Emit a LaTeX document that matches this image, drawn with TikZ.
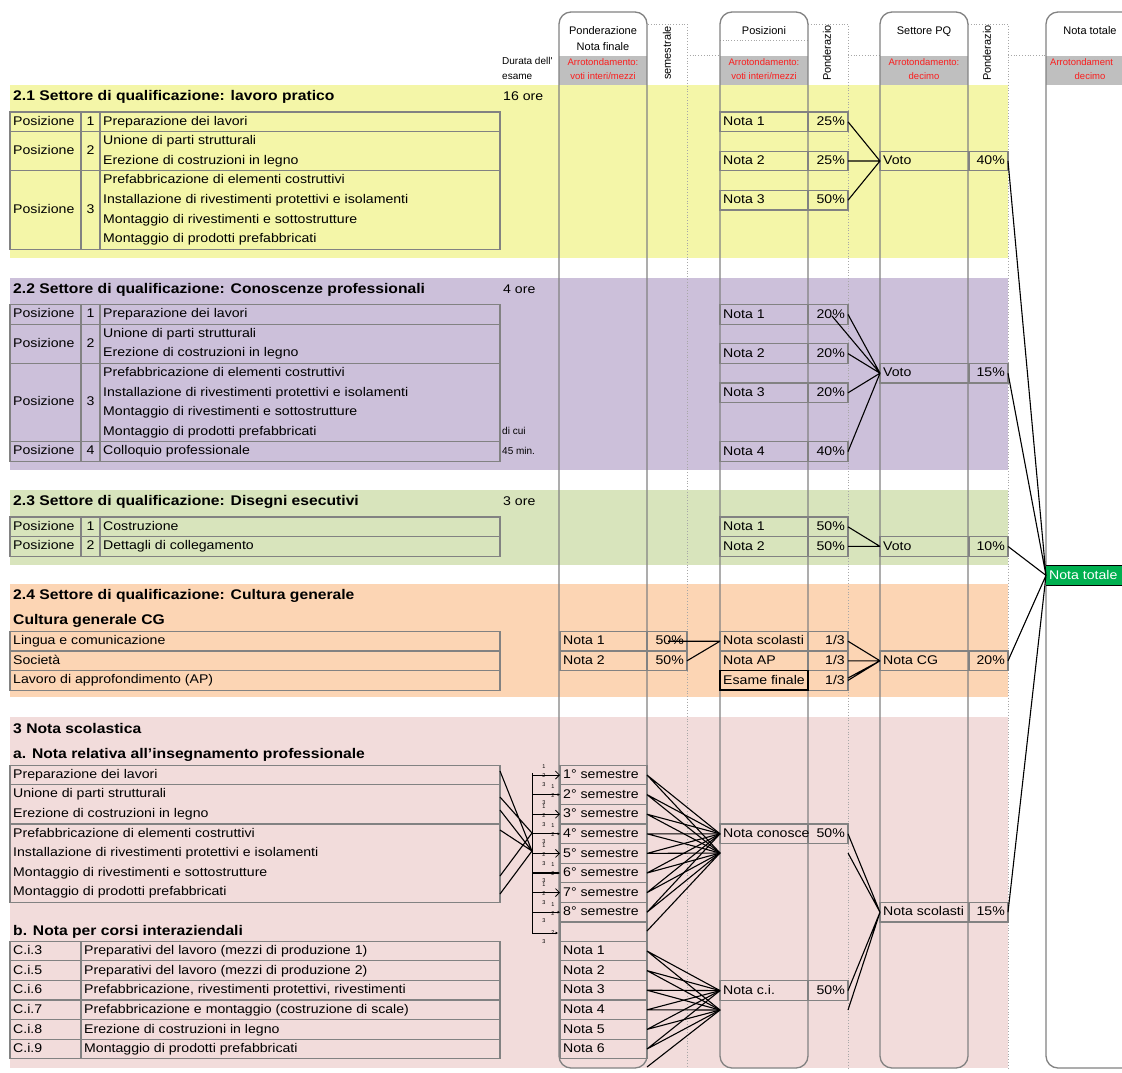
\documentclass[tikz,border=0pt]{standalone}
\usepackage{fontspec}
\setmainfont{Liberation Sans}[FakeStretch=1.12]
\newfontfamily\hdrfont{Liberation Sans}
\usetikzlibrary{arrows.meta}
\definecolor{cYel}{RGB}{244,246,168}
\definecolor{cPur}{RGB}{204,192,218}
\definecolor{cGrn}{RGB}{216,228,188}
\definecolor{cOra}{RGB}{252,213,180}
\definecolor{cPnk}{RGB}{242,220,219}
\definecolor{cHdr}{RGB}{191,191,191}
\definecolor{cRed}{RGB}{250,30,30}
\definecolor{cTot}{RGB}{0,176,80}
\definecolor{cLine}{RGB}{130,130,130}
\newcommand\pcell[7]{%
  \draw[cellb] (#2,#5) rectangle (#4,#5+19.6);
  \draw[cellb] (#3,#5) -- (#3,#5+19.6);
  \node[t] (#1l) at (#2+3,#5+10.2) {#6};
  \node[te] (#1p) at (#4-3,#5+10.2) {#7};
  \coordinate (#1W) at (#2,#5+9.8);
  \coordinate (#1E) at (#4,#5+9.8);
}
\begin{document}
\begin{tikzpicture}[x=1pt,y=-1pt,
  t/.style={anchor=west,inner sep=0pt,font=\fontsize{12.6}{14}\selectfont,text height=9pt,text depth=2.5pt},
  tc/.style={t,anchor=center},
  te/.style={t,anchor=east},
  hd/.style={t,font=\fontsize{14}{16}\selectfont\bfseries},
  sm/.style={anchor=center,inner sep=0pt,font=\hdrfont\fontsize{11}{12}\selectfont,text height=7.5pt,text depth=2pt},
  sml/.style={sm,anchor=west,font=\hdrfont\fontsize{10}{12}\selectfont},
  rd/.style={sm,text=cRed,font=\hdrfont\fontsize{9.5}{11}\selectfont},
  tiny/.style={anchor=center,inner sep=0pt,font=\hdrfont\fontsize{5.5}{6}\selectfont},
  cellb/.style={draw=cLine,line width=1.3pt},
  colbox/.style={draw=cLine,line width=1.3pt,rounded corners=12pt},
  dotl/.style={draw=cLine!70,line width=0.8pt,dotted},
  con/.style={draw=black,line width=1.1pt},
]
\useasboundingbox (0,0) rectangle (1122,1072);
\clip (0,0) rectangle (1122,1072);
\fill[white] (0,0) rectangle (1122,1072);
% bands
\fill[cYel] (10,85) rectangle (1008,258);
\fill[cPur] (10,278) rectangle (1008,470);
\fill[cGrn] (10,490) rectangle (1008,565);
\fill[cOra] (10,584) rectangle (1008,697);
\fill[cPnk] (10,717) rectangle (1008,1068);
% header grey
\fill[cHdr] (559,56) rectangle (647,85);
\fill[cHdr] (720,56) rectangle (808,85);
\fill[cHdr] (880,56) rectangle (968,85);
\fill[cHdr] (1046,56) rectangle (1140,85);
% dotted columns
\draw[dotl] (648,24) -- (687,24) -- (687,1068);
\draw[dotl] (808,24) -- (848,24) -- (848,1068);
\draw[dotl] (968,24) -- (1008,24) -- (1008,1068);
\draw[dotl] (687,55) -- (720,55);
\draw[dotl] (848,55) -- (880,55);
\draw[dotl] (1008,55) -- (1046,55);
\draw[dotl] (720,40) -- (808,40);
% column boxes
\draw[colbox] (559,12) rectangle (647,1068);
\draw[colbox] (720,12) rectangle (808,1068);
\draw[colbox] (880,12) rectangle (968,1068);
\draw[colbox] (1046,12) rectangle (1160,1068);
% header texts
\node[sm] (hPon1) at (603,32) {Ponderazione};
\node[sm] (hPon2) at (603,48) {Nota finale};
\node[rd] (hPonA) at (603,63) {Arrotondamento:};
\node[rd] (hPonB) at (603,77) {voti interi/mezzi};
\node[sm,rotate=90] (hSem) at (668,53) {semestrale};
\node[sm] (hPos) at (764,32) {Posizioni};
\node[rd] (hPosA) at (764,63) {Arrotondamento:};
\node[rd] (hPosB) at (764,77) {voti interi/mezzi};
\node[sm,rotate=90] (hPw1) at (828,53) {Ponderazio};
\node[sm] (hSet) at (924,32) {Settore PQ};
\node[rd] (hSetA) at (924,63) {Arrotondamento:};
\node[rd] (hSetB) at (924,77) {decimo};
\node[sm,rotate=90] (hPw2) at (988,53) {Ponderazio};
\node[sm] (hTot) at (1090,32) {Nota totale};
\node[rd,anchor=west] (hTotA) at (1050,63) {Arrotondament};
\node[rd] (hTotB) at (1090,77) {decimo};
\node[sml] (hDur1) at (502,62) {Durata dell'};
\node[sml] (hDur2) at (502,77) {esame};

% ===== 2.1 =====
\node[hd] (h21) at (13,97) {2.1 Settore di qualificazione: lavoro pratico};
\node[t] (d21) at (503,97) {16 ore};
\draw[cellb] (10,112) rectangle (500,249.2);
\draw[cellb] (10,131.6) -- (500,131.6) (10,170.8) -- (500,170.8) (81,112) -- (81,249.2) (100,112) -- (100,249.2);
\node[t] (a21p1) at (13,122) {Posizione};
\node[tc] (a21n1) at (90.5,122) {1};
\node[t] (a21d1) at (103,122) {Preparazione dei lavori};
\node[t] (a21p2) at (13,151.2) {Posizione};
\node[tc] (a21n2) at (90.5,151.2) {2};
\node[t] (a21d2) at (103,141.4) {Unione di parti strutturali};
\node[t] (a21d3) at (103,161) {Erezione di costruzioni in legno};
\node[t] (a21p3) at (13,210) {Posizione};
\node[tc] (a21n3) at (90.5,210) {3};
\node[t] (a21d4) at (103,180.6) {Prefabbricazione di elementi costruttivi};
\node[t] (a21d5) at (103,200.2) {Installazione di rivestimenti protettivi e isolamenti};
\node[t] (a21d6) at (103,219.8) {Montaggio di rivestimenti e sottostrutture};
\node[t] (a21d7) at (103,239.4) {Montaggio di prodotti prefabbricati};
\pcell{a1}{720}{808}{848}{112}{Nota 1}{25\%}
\pcell{a2}{720}{808}{848}{151.2}{Nota 2}{25\%}
\pcell{a3}{720}{808}{848}{190.4}{Nota 3}{50\%}
\pcell{av}{880}{969}{1008}{151.2}{Voto}{40\%}

% ===== 2.2 =====
\node[hd] (h22) at (13,290) {2.2 Settore di qualificazione: Conoscenze professionali};
\node[t] (d22) at (503,290) {4 ore};
\draw[cellb] (10,304.6) rectangle (500,461.4);
\draw[cellb] (10,324.2) -- (500,324.2) (10,363.4) -- (500,363.4) (10,441.8) -- (500,441.8) (81,304.6) -- (81,461.4) (100,304.6) -- (100,461.4);
\node[t] (b22p1) at (13,314.4) {Posizione};
\node[tc] (b22n1) at (90.5,314.4) {1};
\node[t] (b22d1) at (103,314.4) {Preparazione dei lavori};
\node[t] (b22p2) at (13,343.8) {Posizione};
\node[tc] (b22n2) at (90.5,343.8) {2};
\node[t] (b22d2) at (103,334) {Unione di parti strutturali};
\node[t] (b22d3) at (103,353.6) {Erezione di costruzioni in legno};
\node[t] (b22p3) at (13,402.6) {Posizione};
\node[tc] (b22n3) at (90.5,402.6) {3};
\node[t] (b22d4) at (103,373.2) {Prefabbricazione di elementi costruttivi};
\node[t] (b22d5) at (103,392.8) {Installazione di rivestimenti protettivi e isolamenti};
\node[t] (b22d6) at (103,412.4) {Montaggio di rivestimenti e sottostrutture};
\node[t] (b22d7) at (103,432) {Montaggio di prodotti prefabbricati};
\node[t] (b22p4) at (13,451.6) {Posizione};
\node[tc] (b22n4) at (90.5,451.6) {4};
\node[t] (b22d8) at (103,451.6) {Colloquio professionale};
\node[sml] (dicui) at (502,432) {di cui};
\node[sml] (min45) at (502,452) {45 min.};
\pcell{b1}{720}{808}{848}{304.6}{Nota 1}{20\%}
\pcell{b2}{720}{808}{848}{343.8}{Nota 2}{20\%}
\pcell{b3}{720}{808}{848}{383}{Nota 3}{20\%}
\pcell{b4}{720}{808}{848}{441.8}{Nota 4}{40\%}
\pcell{bv}{880}{969}{1008}{363.4}{Voto}{15\%}
\coordinate (b1m) at (832,316);

% ===== 2.3 =====
\node[hd] (h23) at (13,502) {2.3 Settore di qualificazione: Disegni esecutivi};
\node[t] (d23) at (503,502) {3 ore};
\draw[cellb] (10,517) rectangle (500,556.2);
\draw[cellb] (10,536.6) -- (500,536.6) (81,517) -- (81,556.2) (100,517) -- (100,556.2);
\node[t] (c23p1) at (13,526.8) {Posizione};
\node[tc] (c23n1) at (90.5,526.8) {1};
\node[t] (c23d1) at (103,526.8) {Costruzione};
\node[t] (c23p2) at (13,546.4) {Posizione};
\node[tc] (c23n2) at (90.5,546.4) {2};
\node[t] (c23d2) at (103,546.4) {Dettagli di collegamento};
\pcell{c1}{720}{808}{848}{517}{Nota 1}{50\%}
\pcell{c2}{720}{808}{848}{536.6}{Nota 2}{50\%}
\pcell{cv}{880}{969}{1008}{536.6}{Voto}{10\%}

% ===== 2.4 =====
\node[hd] (h24) at (13,596) {2.4 Settore di qualificazione: Cultura generale};
\node[hd] (h24b) at (13,621) {Cultura generale CG};
\draw[cellb] (10,631.4) rectangle (500,690.2);
\draw[cellb] (10,651) -- (500,651) (10,670.6) -- (500,670.6);
\node[t] (g24a) at (13,641.2) {Lingua e comunicazione};
\node[t] (g24b) at (13,660.8) {Società};
\node[t] (g24c) at (13,680.4) {Lavoro di approfondimento (AP)};
\pcell{g1}{560}{647}{687}{631.4}{Nota 1}{50\%}
\pcell{g2}{560}{647}{687}{651}{Nota 2}{50\%}
\coordinate (g1m) at (668,641.2);
\pcell{gs}{720}{808}{848}{631.4}{Nota scolasti}{1/3}
\pcell{ga}{720}{808}{848}{651}{Nota AP}{1/3}
\pcell{ge}{720}{808}{848}{670.6}{Esame finale}{1/3}
\draw[black,line width=1.1pt] (720,670.6) rectangle (808,690.2);
\draw[black,line width=2pt] (720,690.2) -- (808,690.2);
\coordinate (geE2) at (848,678);
\pcell{gc}{880}{969}{1008}{651}{Nota CG}{20\%}

% ===== Nota totale =====
\fill[cTot] (1046,565.6) rectangle (1140,585.2);
\draw[black,line width=1.3pt] (1046,565.6) -- (1140,565.6) (1046,585.2) -- (1140,585.2);
\node[t,text=white] (tot) at (1049,575.8) {Nota totale};
\coordinate (totW) at (1046,575.4);

% ===== 3 =====
\node[hd] (h3) at (13,730) {3 Nota scolastica};
\node[hd] (h3a) at (13,755) {a. Nota relativa all’insegnamento professionale};
\draw[cellb] (10,765.2) rectangle (500,784.8);
\draw[cellb] (10,784.8) rectangle (500,824);
\draw[cellb] (10,824) rectangle (500,902.4);
\node[t] (e1) at (13,775) {Preparazione dei lavori};
\node[t] (e2) at (13,794.6) {Unione di parti strutturali};
\node[t] (e3) at (13,814.2) {Erezione di costruzioni in legno};
\node[t] (e4) at (13,833.8) {Prefabbricazione di elementi costruttivi};
\node[t] (e5) at (13,853.4) {Installazione di rivestimenti protettivi e isolamenti};
\node[t] (e6) at (13,873) {Montaggio di rivestimenti e sottostrutture};
\node[t] (e7) at (13,892.6) {Montaggio di prodotti prefabbricati};
\foreach \k [evaluate=\k as \n using int(\k+1)] in {0,...,7}{
  \draw[cellb] (560,765.2+19.6*\k) rectangle (647,784.8+19.6*\k);
  \node[t] (sem\k) at (563,775.4+19.6*\k) {\n° semestre};
  \coordinate (semE\k) at (647,775+19.6*\k);
  \coordinate (semW\k) at (560,775+19.6*\k);
  \coordinate (brk\k) at (532,775+19.6*\k);
}
\draw[cellb] (560,921.6) rectangle (647,941.2);
\coordinate (semE8) at (647,931);
\coordinate (semW8) at (558,933);
\coordinate (brk8) at (532,933);
\coordinate (brkT) at (532,773);
\draw[line width=1pt] (brkT) -- (brk8);
\foreach \k in {0,2,4,6}{
  \draw[line width=0.8pt,-{Straight Barb[length=4pt,width=8pt]}] (brk\k) -- (semW\k);
  \node[tiny] (ta\k) at (544,767+19.6*\k) {1};
  \node[tiny] (tb\k) at (544,776+19.6*\k) {2};
  \node[tiny] (tc\k) at (544,785+19.6*\k) {3};
}
\foreach \k in {1,3,5,7}{
  \draw[line width=1.3pt,-{Latex[length=2.5pt,width=3pt]}] (brk\k) -- (semW\k);
  \node[tiny] (ta\k) at (553,767+19.6*\k) {1};
  \node[tiny] (tb\k) at (553,776+19.6*\k) {2};
  \node[tiny] (tc\k) at (544,783+19.6*\k) {3};
}
\draw[line width=0.8pt,-{Latex[length=2.5pt,width=3pt]}] (brk8) -- (semW8);
\node[tiny] (tb8) at (553,933) {2};
\node[tiny] (tc8) at (544,942) {3};
\coordinate (eL1) at (500,771);
\coordinate (eL2) at (500,797);
\coordinate (eL3) at (500,810);
\coordinate (eL4) at (500,830);
\coordinate (eL5) at (500,876);
\coordinate (eL6) at (500,894);
\coordinate (bc1) at (532,833);
\coordinate (bc2) at (532,851);
\draw[con] (eL1) -- (bc2) (eL2) -- (bc1) (eL3) -- (bc2) (eL4) -- (bc2) (eL5) -- (bc1) (eL6) -- (bc2);

\pcell{nk}{720}{808}{848}{824}{Nota conosce}{50\%}
\coordinate (nkW2) at (720,853);
\coordinate (nkE2) at (848,853);
\pcell{ns}{880}{969}{1008}{902.4}{Nota scolasti}{15\%}

\node[hd] (h3b) at (13,932) {b. Nota per corsi interaziendali};
\draw[cellb] (10,941.2) rectangle (500,1058.8);
\draw[cellb] (81,941.2) -- (81,1058.8);
\foreach \k/\c/\d in {0/3/Preparativi del lavoro (mezzi di produzione 1),
                      1/5/Preparativi del lavoro (mezzi di produzione 2),
                      2/6/{Prefabbricazione, rivestimenti protettivi, rivestimenti},
                      3/7/Prefabbricazione e montaggio (costruzione di scale),
                      4/8/Erezione di costruzioni in legno,
                      5/9/Montaggio di prodotti prefabbricati}{
  \draw[cellb] (10,941.2+19.6*\k) -- (500,941.2+19.6*\k);
  \node[t] (ci\k) at (13,951.4+19.6*\k) {C.i.\c};
  \node[t] (cd\k) at (84,951.4+19.6*\k) {\d};
}
\foreach \k [evaluate=\k as \n using int(\k+1)] in {0,...,5}{
  \draw[cellb] (560,941.2+19.6*\k) rectangle (647,960.8+19.6*\k);
  \node[t] (cn\k) at (563,951.4+19.6*\k) {Nota \n};
  \coordinate (cnE\k) at (647,951+19.6*\k);
}
\coordinate (cnE6) at (647,1067);
\pcell{nc}{720}{808}{848}{980.8}{Nota c.i.}{50\%}
\coordinate (ncW2) at (720,1010);
\coordinate (ncE2) at (848,1010);

% ===== connectors =====
\draw[con] (a1E) -- (avW) (a2E) -- (avW) (a3E) -- (avW);
\draw[con] (b1E) -- (bvW) (b1m) -- (bvW) (b2E) -- (bvW) (b3E) -- (bvW) (b4E) -- (bvW);
\draw[con] (c1E) -- (cvW) (c2E) -- (cvW);
\draw[con] (g1m) -- (gsW) (g2E) -- (gsW);
\draw[con] (gsE) -- (gcW) (gaE) -- (gcW) (geE) -- (gcW) (geE2) -- (gcW);
\foreach \k in {0,...,7}{
  \draw[con] (semE\k) -- (nkW) (semE\k) -- (nkW2);
}
\draw[con] (semE8) -- (nkW2);
\foreach \k in {0,...,5}{
  \draw[con] (cnE\k) -- (ncW) (cnE\k) -- (ncW2);
}
\draw[con] (cnE6) -- (ncW2);
\draw[con] (nkE) -- (nsW) (nkE2) -- (nsW) (ncE) -- (nsW) (ncE2) -- (nsW);
\draw[con] (avE) -- (totW) (bvE) -- (totW) (cvE) -- (totW) (gcE) -- (totW) (nsE) -- (totW);
\end{tikzpicture}
\end{document}
